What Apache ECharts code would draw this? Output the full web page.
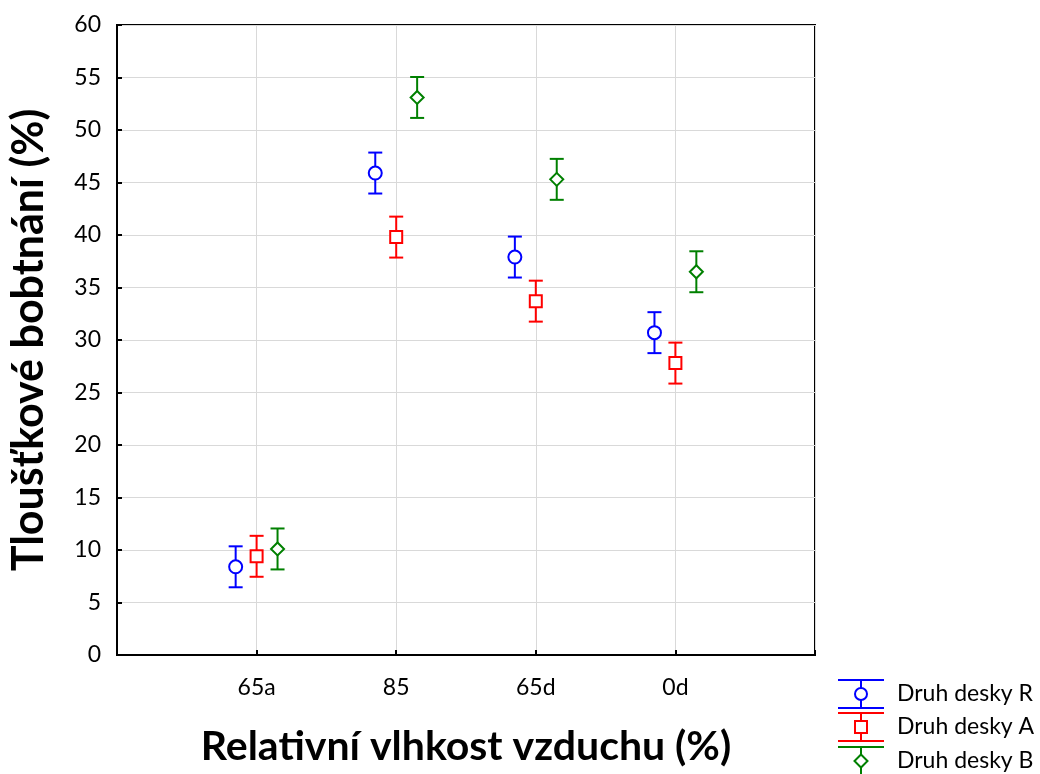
<!DOCTYPE html>
<html>
<head>
<meta charset="utf-8">
<script src="https://cdn.jsdelivr.net/npm/echarts@6/dist/echarts.min.js"></script>
<style>html,body{margin:0;padding:0;background:#fff}#c{width:1040px;height:774px}</style>
</head>
<body>
<div id="c"></div>
<script>
const categories = ['65a', '85', '65d', '0d'];
const seriesNames = ['Druh desky R', 'Druh desky A', 'Druh desky B'];
const meanR = [8.4, 45.9, 37.9, 30.7];
const meanA = [9.4, 39.8, 33.7, 27.8];
const meanB = [10.1, 53.1, 45.3, 36.5];
const errR = [1.95, 1.95, 1.95, 1.95];
const errA = [1.95, 1.95, 1.95, 1.95];
const errB = [1.95, 1.95, 1.95, 1.95];
const yTicks = [0, 5, 10, 15, 20, 25, 30, 35, 40, 45, 50, 55, 60];

const colors = ['#0000FF', '#FF0000', '#008000'];
const symbols = ['circle', 'rect', 'diamond'];
const symbolSizes = [[13, 13], [12, 12], [13, 13]];
const offsets = [-0.15, 0, 0.15];
const means = [meanR, meanA, meanB];
const errs = [errR, errA, errB];
const FONT = 'Lato';

const chart = echarts.init(document.getElementById('c'));
const series = [];
means.forEach((m, s) => {
  const pts = m.map((v, i) => [i + 1 + offsets[s], v, v - errs[s][i], v + errs[s][i]]);
  series.push({
    type: 'custom',
    name: seriesNames[s] + ' err',
    data: pts,
    z: 3,
    renderItem: function (params, api) {
      const x = api.value(0);
      const lo = api.coord([x, api.value(2)]);
      const hi = api.coord([x, api.value(3)]);
      const cw = 7;
      const style = { stroke: colors[s], lineWidth: 2, fill: null };
      return {
        type: 'group',
        children: [
          { type: 'line', shape: { x1: lo[0], y1: lo[1], x2: hi[0], y2: hi[1] }, style },
          { type: 'line', shape: { x1: lo[0] - cw, y1: lo[1], x2: lo[0] + cw, y2: lo[1] }, style },
          { type: 'line', shape: { x1: hi[0] - cw, y1: hi[1], x2: hi[0] + cw, y2: hi[1] }, style }
        ]
      };
    },
    encode: { x: 0, y: [1, 2, 3] }
  });
  series.push({
    type: 'scatter',
    name: seriesNames[s],
    data: pts.map(p => [p[0], p[1]]),
    symbol: symbols[s],
    symbolSize: symbolSizes[s],
    z: 4,
    itemStyle: { color: '#fff', borderColor: colors[s], borderWidth: 2, opacity: 1 }
  });
});

// legend drawn as graphic
const legendChildren = [];
const legY = [694, 727, 761];
legY.forEach((cy, s) => {
  const c = colors[s];
  const st = { stroke: c, lineWidth: 2, fill: null };
  const capTop = cy - 14, capBot = cy + 14;
  legendChildren.push({ type: 'line', shape: { x1: 838, y1: capTop, x2: 884, y2: capTop }, style: st });
  legendChildren.push({ type: 'line', shape: { x1: 838, y1: capBot, x2: 884, y2: capBot }, style: st });
  legendChildren.push({ type: 'line', shape: { x1: 861, y1: capTop, x2: 861, y2: capBot }, style: st });
  let marker;
  if (s === 0) marker = { type: 'circle', shape: { cx: 861, cy: cy, r: 6 }, style: { stroke: c, lineWidth: 2, fill: '#fff' } };
  else if (s === 1) marker = { type: 'rect', shape: { x: 855, y: cy - 6, width: 12, height: 12 }, style: { stroke: c, lineWidth: 2, fill: '#fff' } };
  else marker = { type: 'polygon', shape: { points: [[861, cy - 6.5], [867.5, cy], [861, cy + 6.5], [854.5, cy]] }, style: { stroke: c, lineWidth: 2, fill: '#fff' } };
  legendChildren.push(marker);
  legendChildren.push({ type: 'text', style: { x: 897, y: cy, text: seriesNames[s], font: '23px ' + FONT, fill: '#000', textVerticalAlign: 'middle', verticalAlign: 'middle' } });
});

chart.setOption({
  animation: false,
  backgroundColor: '#fff',
  grid: { left: 116, right: 225, top: 25, bottom: 119, show: true, borderColor: '#000', borderWidth: 2, backgroundColor: 'transparent' },
  xAxis: {
    type: 'value', min: 0, max: 5, interval: 1,
    name: 'Relativní vlhkost vzduchu (%)', nameLocation: 'middle', nameGap: 71,
    nameTextStyle: { fontFamily: FONT, fontWeight: 'bold', fontSize: 41, color: '#000' },
    axisLine: { show: true, lineStyle: { color: '#000', width: 2 } },
    axisTick: { show: true, inside: true, length: 5, lineStyle: { color: '#000', width: 2 } },
    axisLabel: { fontFamily: FONT, fontSize: 23, color: '#000', margin: 21,
      formatter: v => (v >= 1 && v <= categories.length && Number.isInteger(v)) ? categories[v - 1] : '' },
    splitLine: { show: true, lineStyle: { color: '#d9d9d9', width: 1 } }
  },
  yAxis: {
    type: 'value', min: 0, max: 60, interval: 5,
    name: 'Tloušťkové bobtnání (%)', nameLocation: 'middle', nameGap: 66,
    nameTextStyle: { fontFamily: FONT, fontWeight: 'bold', fontSize: 43, color: '#000' },
    axisLine: { show: true, lineStyle: { color: '#000', width: 2 } },
    axisTick: { show: true, inside: true, length: 5, lineStyle: { color: '#000', width: 2 } },
    axisLabel: { fontFamily: FONT, fontSize: 23, color: '#000', margin: 16,
      formatter: v => yTicks.includes(v) ? String(v) : '' },
    splitLine: { show: true, lineStyle: { color: '#d9d9d9', width: 1 } }
  },
  series: series,
  graphic: [{ type: 'group', children: legendChildren }]
});
</script>
</body>
</html>
